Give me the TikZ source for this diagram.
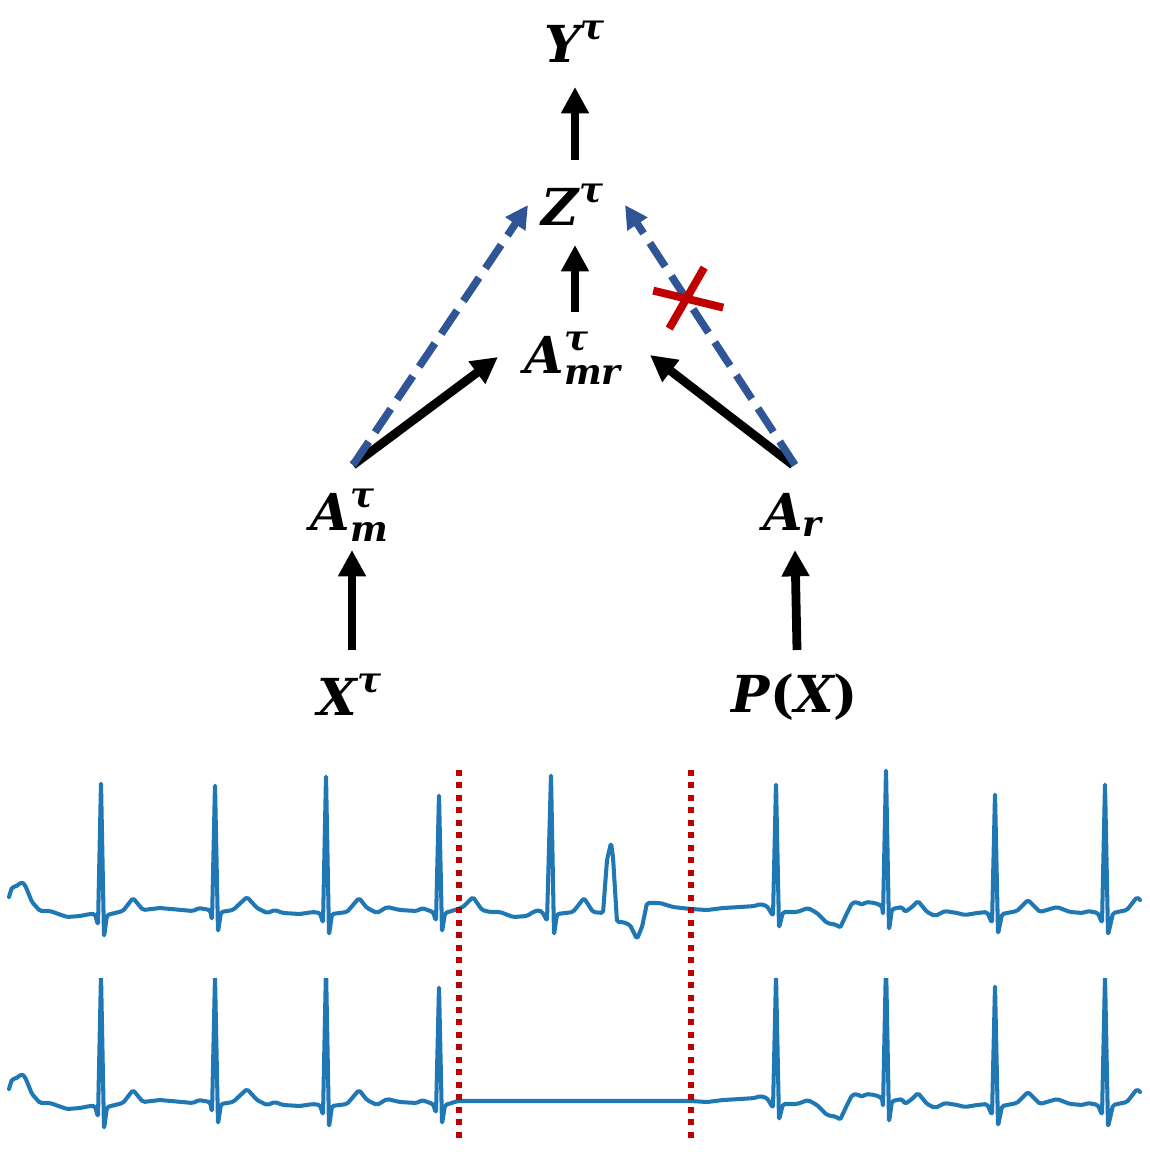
\documentclass[tikz,border=0pt]{standalone}
\usepackage{amsmath}
\usepackage{fontspec}
\setmainfont{DejaVu Serif}
\usetikzlibrary{arrows.meta,calc}
\definecolor{ecgblue}{HTML}{1F77B4}
\definecolor{dblue}{HTML}{2F5597}
\definecolor{dred}{HTML}{C00000}
\newcommand\bivar[1]{\text{\bfseries\itshape #1}}
\tikzset{
  lbl/.style={inner sep=0pt, font=\fontsize{29}{35}\selectfont},
  blk/.style={line width=5pt, -{Triangle[length=15pt,width=15pt]}},
  dsh/.style={draw=dblue, line width=4.3pt, dash pattern=on 16pt off 6.5pt, -{Triangle[length=13pt,width=13pt]}, dblue},
  crs/.style={draw=dred, line width=4.5pt},
  sep/.style={draw=dred, line width=3.4pt, dash pattern=on 3.4pt off 3.7pt},
  ecg/.style={draw=ecgblue, line width=2.3pt, line join=round, line cap=round, rounded corners=1pt}
}
\def\ecgL{(9,897) -- (12,887) -- (15,887) -- (22,882) -- (25,885) -- (32,902) -- (40,911) -- (50,911) -- (67,917) -- (80,916) -- (90,914) -- (95,914) -- (98,925) -- (101,782) -- (104,937) -- (107,915) -- (123,911) -- (133,898) -- (143,910) -- (160,908) -- (193,911) -- (199,908) -- (210,910) -- (212,920) -- (215,784) -- (218,932) -- (221,912) -- (233,910) -- (247,897) -- (257,908) -- (267,913) -- (275,910) -- (283,913) -- (300,914) -- (313,912) -- (320,913) -- (323,923) -- (326,775) -- (329,935) -- (332,914) -- (347,912) -- (359,898) -- (367,908) -- (377,913) -- (387,907) -- (400,910) -- (417,911) -- (422,908) -- (433,912) -- (436,921) -- (439,794) -- (442,932) -- (445,913) -- (458,909)}
\def\ecgM{-- (463,907) -- (473,897) -- (482,910) -- (490,912) -- (500,912) -- (513,917) -- (527,916) -- (533,912) -- (539,910) -- (543,913) -- (547,921) -- (551,774) -- (554,935) -- (557,914) -- (573,912) -- (584,898) -- (593,912) -- (603,913) -- (607,860) -- (611,843) -- (613,857) -- (617,922) -- (623,922) -- (630,925) -- (637,939) -- (642,927) -- (647,903) -- (660,903) -- (673,907) -- (691,909)}
\def\ecgR{-- (707,910) -- (723,908) -- (740,907) -- (755,906) -- (760,904) -- (767,906) -- (773,916) -- (776,783) -- (779,928) -- (783,912) -- (797,912) -- (808,908) -- (817,913) -- (827,923) -- (837,925) -- (840,928) -- (847,913) -- (852,903) -- (857,902) -- (862,905) -- (866,902) -- (875,903) -- (882,906) -- (883,915) -- (886,769) -- (889,930) -- (892,909) -- (902,907) -- (905,912) -- (912,907) -- (918,901) -- (927,912) -- (935,916) -- (945,911) -- (957,913) -- (965,915) -- (977,913) -- (987,912) -- (992,923) -- (995,793) -- (998,934) -- (1002,914) -- (1017,911) -- (1028,900) -- (1040,912) -- (1057,907) -- (1070,912) -- (1083,913) -- (1088,911) -- (1098,913) -- (1102,923) -- (1105,783) -- (1108,935) -- (1113,913) -- (1127,910) -- (1137,897) -- (1140,900)}
\begin{document}
\begin{tikzpicture}[x=0.02cm, y=-0.02cm]
\useasboundingbox (0,0) rectangle (1149,1169);
% nodes
\node[lbl] (y)   at (575,42)  {$\bivar{Y}^{\bivar{τ}}$};
\node[lbl] (z)   at (573,205) {$\bivar{Z}^{\bivar{τ}}$};
\node[lbl] (amr) at (573,358) {$\bivar{A}^{\bivar{τ}}_{\bivar{mr}}$};
\node[lbl] (am)  at (350,515) {$\bivar{A}^{\bivar{τ}}_{\bivar{m}}$};
\node[lbl] (ar)  at (793,515) {$\bivar{A}_{\bivar{r}}$};
\node[lbl] (x)   at (350,695) {$\bivar{X}^{\bivar{τ}}$};
\node[lbl] (px)  at (795,697) {\bfseries\itshape P\upshape(\itshape X\upshape)};
% black arrows
\draw[blk] ($(z)+(2,-45)$) -- ($(y)+(0,45)$);
\draw[blk] ($(amr)+(2,-46)$) -- ($(z)+(2,40)$);
\draw[blk] ($(am)+(3,-50)$) -- ($(amr)+(-75,-1)$);
\draw[blk] ($(ar)+(0,-50)$) -- ($(amr)+(77,-3)$);
\draw[blk] ($(x)+(2,-45)$) -- ($(am)+(2,35)$);
\draw[blk] ($(px)+(2,-47)$) -- ($(ar)+(2,35)$);
% blue dashed arrows
\draw[dsh] ($(am)+(3,-50)$) -- ($(z)+(-45,0)$);
\draw[dsh] ($(ar)+(2,-50)$) -- coordinate[pos=0.64] (cr) ($(z)+(52,0)$);
% red cross
\draw[crs] ($(cr)+(-33,-8)$) -- ($(cr)+(37,9)$);
\draw[crs] ($(cr)+(18,-31)$) -- ($(cr)+(-17,30)$);
% ECG traces
\draw[ecg] \ecgL \ecgM \ecgR;
\begin{scope}
\clip (0,978) rectangle (1149,1169);
\begin{scope}[shift={(0,192)}]
\draw[ecg] \ecgL -- (691,909) \ecgR;
\end{scope}
\end{scope}
% separators
\coordinate (s1t) at (459,770);
\coordinate (s1b) at (459,1138);
\coordinate (s2t) at (691,770);
\coordinate (s2b) at (691,1138);
\draw[sep] (s1t) -- (s1b);
\draw[sep] (s2t) -- (s2b);
\end{tikzpicture}
\end{document}
